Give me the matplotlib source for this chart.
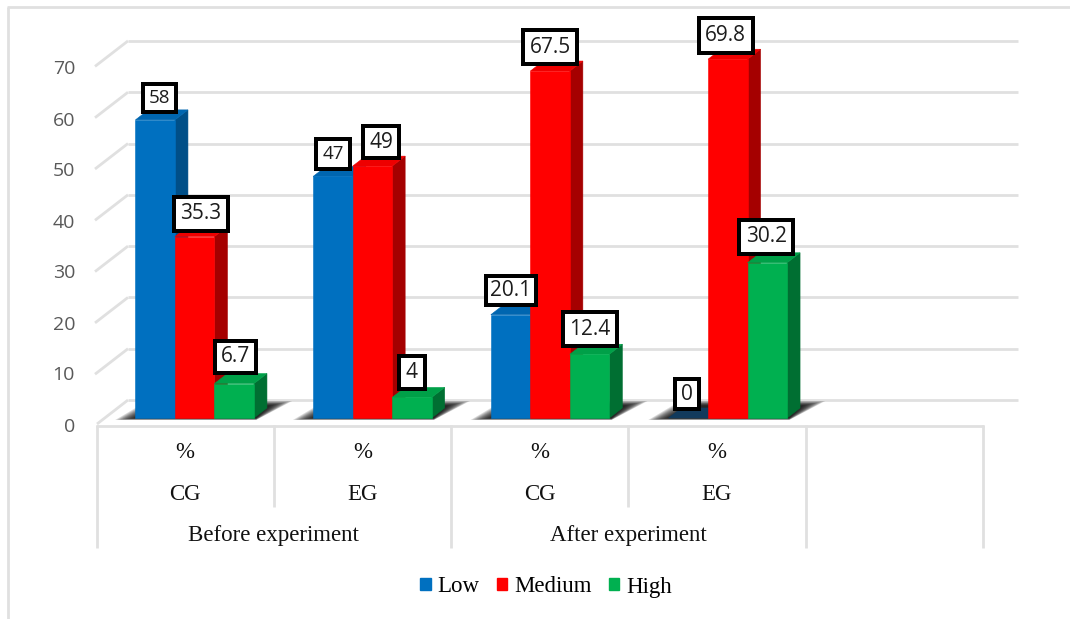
import matplotlib
matplotlib.use("Agg")
import matplotlib.pyplot as plt
from matplotlib.patches import Patch, Polygon, Rectangle
from matplotlib.transforms import Affine2D

# chart data
groups = ["CG", "EG", "CG", "EG"]
units = ["%", "%", "%", "%"]
phases = ["Before experiment", "After experiment"]
series = ["Low", "Medium", "High"]
low = [58, 47, 20.1, 0]
medium = [35.3, 49, 67.5, 69.8]
high = [6.7, 4, 12.4, 30.2]
y_ticks = [0, 10, 20, 30, 40, 50, 60, 70]

# colours for each series: front, side, top
front_cols = ["#0070c0", "#ff0000", "#00b050"]
side_cols = ["#004f88", "#a50000", "#006f32"]
top_cols = ["#0066b0", "#ee0000", "#00a048"]
grid_col = "#e0e0e0"

# where the data labels sit relative to the top of their bar (pixels)
label_offsets = [
    [(4, -22), (0, -22), (0, -24), (-1, -24)],
    [(6, -23), (9, -24), (0, -24), (-2, -24)],
    [(1, -27), (0, -25), (0, -25), (-1, -26)],
]
# outer size of the label boxes (pixels)
label_sizes = [
    [(37, 32), (38, 34), (54, 33), (28, 34)],
    [(58, 38), (40, 36), (58, 38), (58, 39)],
    [(45, 36), (30, 37), (58, 38), (58, 38)],
]

W, H = 1070, 619
PX_X = 177.7   # pixels per category
PX_Y = 5.14    # pixels per unit of value
X0 = 194.7     # pixel of the first category centre
Y0 = 418       # pixel of value 0 on the bar fronts
BAR = 39.5 / PX_X
DEPTH_X = 13 / PX_X
DEPTH_Y = 10 / PX_Y
BORDER = 4     # label border width in pixels

fig = plt.figure(figsize=(W / 100, H / 100), dpi=100)
ax = fig.add_axes([0, 0, 1, 1])
ax.set_xlim(-X0 / PX_X, (W - X0) / PX_X)
ax.set_ylim((Y0 - H) / PX_Y, Y0 / PX_Y)
ax.axis("off")

# image-style pixel coordinates for the frame and the category table
px = Affine2D().scale(1, -1).translate(0, H)


def line(xs, ys, col=grid_col, lw=2.0, z=1):
    ax.plot(xs, ys, color=col, lw=lw, transform=px, zorder=z, solid_capstyle="butt", clip_on=False)


# outer chart frame
line([8, 8], [7, H])
line([7, W], [7, 7])

# back wall gridlines, with the slanted part running to the axis
for v in y_ticks:
    back_y = 400 - 5.13 * v
    line([128, 1018], [back_y, back_y])
    if v > 0:
        line([95, 128], [back_y + 25.5, back_y])
    else:
        line([97, 128], [back_y + 24, back_y])
    ax.text(75, 426.5 - 5.1 * v, str(v), transform=px, ha="right", va="center",
            fontsize=14, family="Open Sans", color="#595959")

# category table under the floor
line([96, 984], [425.5, 425.5])
for x, bottom in zip([97, 274, 451, 628, 806, 983], [548, 507, 548, 507, 548, 548]):
    line([x, x], [425, bottom])

serif = dict(transform=px, ha="center", va="center", fontsize=16.5,
             family="Liberation Serif", color="#111111")
for i in range(4):
    cx = 185 + 177.3 * i
    ax.text(cx, 452, units[i], **serif)
    ax.text(cx, 494, groups[i], **serif)
for i, phase in enumerate(phases):
    ax.text(273.5 + 355 * i, 535, phase, **serif)

# soft shadow on the floor behind each cluster
for i in range(4):
    left = X0 + PX_X * i - 59.5
    right = left + 119
    steps = 12
    for s in range(steps):
        k = s / steps
        outline = [
            (left - 20 + 22 * k, 420 - 2 * k),
            (right + 2, 420 - 2 * k),
            (right + 38 - 24 * k, 401 + 5 * k),
            (left + 12 + 14 * k, 401 + 5 * k),
        ]
        ax.add_patch(Polygon(outline, closed=True, fc="black", ec="none", alpha=0.14,
                             transform=px, zorder=2))

# bars: front through ax.bar, then side and top faces from the same values
x_pos = list(range(4))
all_series = [low, medium, high]
z = 3
for s, values in enumerate(all_series):
    for i, v in enumerate(values):
        x_left = x_pos[i] + (s - 1.5) * BAR
        x_right = x_left + BAR
        side = [(x_right, 0), (x_right + DEPTH_X, DEPTH_Y), (x_right + DEPTH_X, v + DEPTH_Y), (x_right, v)]
        top = [(x_left, v), (x_right, v), (x_right + DEPTH_X, v + DEPTH_Y), (x_left + DEPTH_X, v + DEPTH_Y)]
        top_col = top_cols[s] if v > 0 else "#123a5c"
        ax.add_patch(Polygon(side, closed=True, fc=side_cols[s], ec=side_cols[s], lw=0.4, zorder=z))
        ax.add_patch(Polygon(top, closed=True, fc=top_col, ec=top_col, lw=0.4, zorder=z))
        if v > 0:
            ax.bar(x_left, v, width=BAR, align="edge", color=front_cols[s],
                   edgecolor=front_cols[s], lw=0.4, zorder=z + 0.5)
    z += 1

# boxed value labels
for s, values in enumerate(all_series):
    for i, v in enumerate(values):
        dx, dy = label_offsets[s][i]
        w, h = label_sizes[s][i]
        w = (w - BORDER) / PX_X
        h = (h - BORDER) / PX_Y
        x = x_pos[i] + (s - 1) * BAR + dx / PX_X
        y = v - dy / PX_Y
        ax.add_patch(Rectangle((x - w / 2, y - h / 2), w, h, fc="white", ec="black",
                               lw=BORDER * 0.72, joinstyle="miter", zorder=20))
        txt = f"{v:g}"
        size = 13.5 if txt in ("58", "47") else 15
        ax.text(x, y, txt, ha="center", va="center", fontsize=size, family="Open Sans",
                color="#1c1c1c", zorder=21)

handles = [Patch(color=c, label=n) for c, n in zip(front_cols, series)]
ax.legend(handles=handles, loc="center", bbox_to_anchor=(546 / W, 1 - 587 / H), ncol=3,
          frameon=False, handlelength=0.45, handleheight=0.45, handletextpad=0.3,
          columnspacing=0.75, prop={"family": "Liberation Serif", "size": 16.5})

fig.savefig("out.png", dpi=100, facecolor="white")
